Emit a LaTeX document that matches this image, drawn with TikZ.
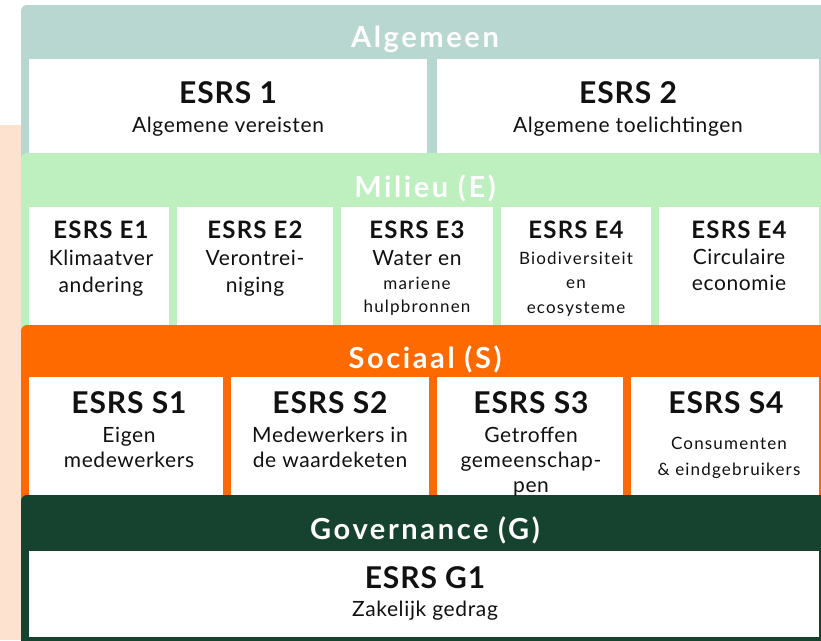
\documentclass[tikz,border=0pt]{standalone}
\usepackage{fontspec}
\setmainfont{Lato}
\definecolor{peachcol}{HTML}{FDE2CF}
\definecolor{algcol}{HTML}{B8D7D0}
\definecolor{milcol}{HTML}{BEEFBE}
\definecolor{soccol}{HTML}{FF6A00}
\definecolor{govcol}{HTML}{15432F}
\definecolor{inkcol}{HTML}{111111}
\begin{document}
\begin{tikzpicture}[x=1pt,y=-1pt,
  band/.style={rounded corners=6pt},
  wbox/.style={fill=white, inner sep=0pt, outer sep=0pt, anchor=north west},
  hdr/.style={anchor=base, inner sep=0pt, text=white, font=\bfseries\fontsize{29}{32}\selectfont\addfontfeature{LetterSpace=9}},
  bigt/.style={anchor=base, inner sep=0pt, text=inkcol, font=\bfseries\fontsize{30}{32}\selectfont\addfontfeature{LetterSpace=3}},
  midt/.style={anchor=base, inner sep=0pt, text=inkcol, font=\bfseries\fontsize{24}{26}\selectfont\addfontfeature{LetterSpace=5}},
  subt/.style={anchor=base, inner sep=0pt, text=inkcol, font=\fontsize{21}{24}\selectfont\addfontfeature{LetterSpace=3}},
  smallt/.style={anchor=base, inner sep=0pt, text=inkcol, font=\fontsize{17}{20}\selectfont\addfontfeature{LetterSpace=7}}
]
\useasboundingbox (0,0) rectangle (821,640);
% background
\fill[peachcol] (0,125) rectangle (30,640);
% bands
\fill[algcol, band] (21,5) rectangle (830,170);
\fill[milcol, band] (21,153) rectangle (830,340);
\fill[soccol, band] (21,325) rectangle (830,510);
\fill[govcol, band] (21,495) rectangle (830,660);
% Algemeen
\node[hdr] (halg) at (425,47) {Algemeen};
\node[wbox, minimum width=398pt, minimum height=94pt] (b1) at (29,59) {};
\node[wbox, minimum width=382pt, minimum height=94pt] (b2) at (437,59) {};
\node[bigt] (t1) at (228,103) {ESRS 1};
\node[subt] (s1) at (228,132) {Algemene vereisten};
\node[bigt] (t2) at (628,103) {ESRS 2};
\node[subt] (s2) at (628,132) {Algemene toelichtingen};
% Milieu
\node[hdr] (hmil) at (425,197) {Milieu (E)};
\node[wbox, minimum width=140pt, minimum height=118pt] (e1) at (29,207) {};
\node[wbox, minimum width=156pt, minimum height=118pt] (e2) at (177,207) {};
\node[wbox, minimum width=152pt, minimum height=118pt] (e3) at (341,207) {};
\node[wbox, minimum width=150pt, minimum height=118pt] (e4) at (501,207) {};
\node[wbox, minimum width=160pt, minimum height=118pt] (e5) at (659,207) {};
\node[midt] (te1) at (101,238) {ESRS E1};
\node[subt] (se1a) at (101,265) {Klimaatver};
\node[subt] (se1b) at (101,292) {andering};
\node[midt] (te2) at (255,238) {ESRS E2};
\node[subt] (se2a) at (255,265) {Verontrei-};
\node[subt] (se2b) at (255,292) {niging};
\node[midt] (te3) at (417,238) {ESRS E3};
\node[subt] (se3a) at (417,265) {Water en};
\node[smallt] (se3b) at (417,289) {mariene};
\node[smallt] (se3c) at (417,312) {hulpbronnen};
\node[midt] (te4) at (576,238) {ESRS E4};
\node[smallt] (se4a) at (576,264) {Biodiversiteit};
\node[smallt] (se4b) at (576,288) {en};
\node[smallt] (se4c) at (576,313) {ecosysteme};
\node[midt] (te5) at (739,238) {ESRS E4};
\node[subt] (se5a) at (739,264) {Circulaire};
\node[subt] (se5b) at (739,290) {economie};
% Sociaal
\node[hdr] (hsoc) at (425,368) {Sociaal (S)};
\node[wbox, minimum width=194pt, minimum height=118pt] (ss1) at (29,377) {};
\node[wbox, minimum width=198pt, minimum height=118pt] (ss2) at (231,377) {};
\node[wbox, minimum width=186pt, minimum height=118pt] (ss3) at (437,377) {};
\node[wbox, minimum width=188pt, minimum height=118pt] (ss4) at (631,377) {};
\node[bigt] (ts1) at (129,413) {ESRS S1};
\node[subt] (ss1a) at (129,442) {Eigen};
\node[subt] (ss1b) at (129,467) {medewerkers};
\node[bigt] (ts2) at (330,413) {ESRS S2};
\node[subt] (ss2a) at (330,442) {Medewerkers in};
\node[subt] (ss2b) at (330,467) {de waardeketen};
\node[bigt] (ts3) at (531,413) {ESRS S3};
\node[subt] (ss3a) at (531,442) {Getroffen};
\node[subt] (ss3b) at (531,467) {gemeenschap-};
\node[subt] (ss3c) at (531,492) {pen};
\node[bigt] (ts4) at (726,413) {ESRS S4};
\node[smallt] (ss4a) at (729,449) {Consumenten};
\node[smallt] (ss4b) at (729,475) {\& eindgebruikers};
% Governance
\node[hdr] (hgov) at (425,539) {Governance (G)};
\node[wbox, minimum width=790pt, minimum height=86pt] (g1) at (29,551) {};
\node[bigt] (tg1) at (425,588) {ESRS G1};
\node[subt] (sg1) at (425,616) {Zakelijk gedrag};
\end{tikzpicture}
\end{document}
